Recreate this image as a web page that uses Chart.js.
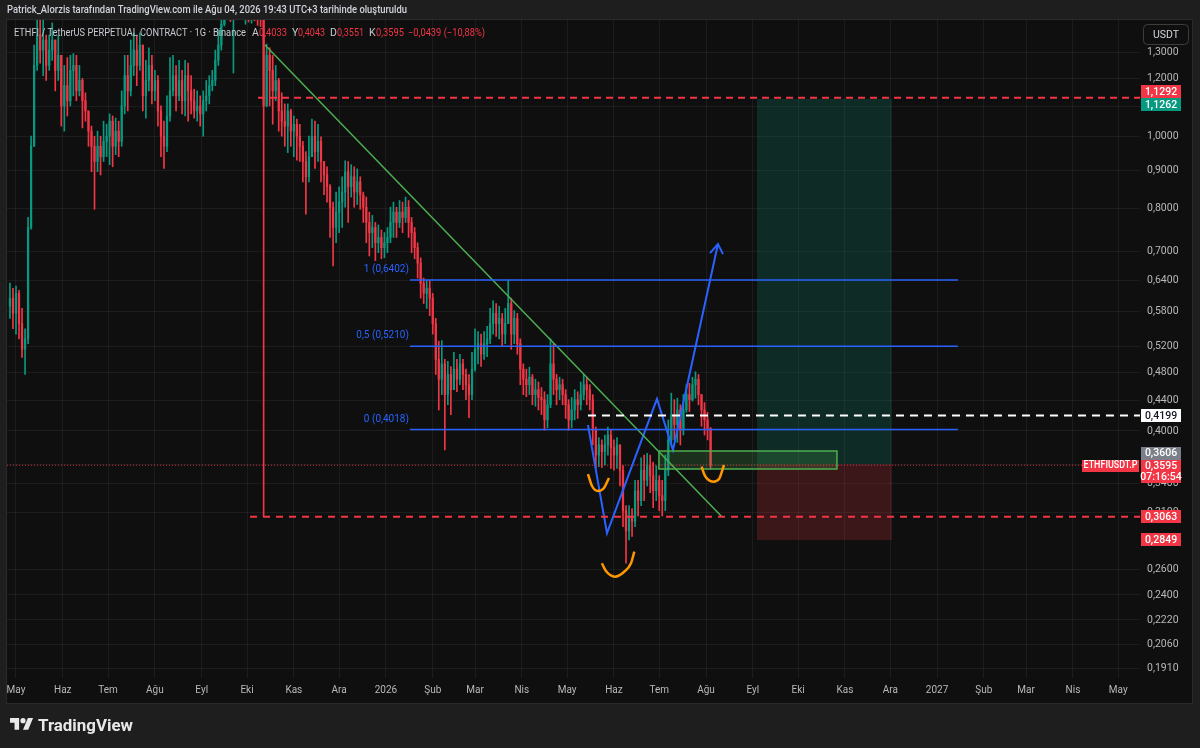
<!DOCTYPE html>
<html lang="tr">
<head>
<meta charset="utf-8">
<title>ETHFIUSDT.P</title>
<script src="https://cdn.jsdelivr.net/npm/chart.js@4.4.1/dist/chart.umd.min.js"></script>
<style>
  html, body { margin: 0; padding: 0; background: #1e1e1e; }
  canvas { display: block; }
</style>
</head>
<body>
<canvas id="chart" width="1200" height="748"></canvas>
<script>
// 2 günlük mumlar, gün sayısı 1 May 2025'ten itibaren
const startDay = -4;
const stepDays = 2;
const firstOpen = 0.590;

const closes = [
  0.605, 0.577, 0.614, 0.559, 0.516, 0.533, 0.754, 0.971, 1.249, 1.373,
  1.310, 1.352, 1.249, 1.310, 1.352, 1.230, 1.289, 1.101, 1.173, 1.119,
  1.230, 1.249, 1.154, 1.192, 1.119, 1.084, 1.018, 0.971, 0.926, 0.971,
  0.940, 0.986, 1.002, 1.050, 0.971, 1.018, 0.986, 1.101, 1.210, 1.154,
  1.249, 1.310, 1.249, 1.331, 1.136, 1.192, 1.249, 1.154, 1.192, 1.084,
  1.002, 0.971, 1.067, 1.154, 1.210, 1.136, 1.192, 1.119, 1.210, 1.154,
  1.119, 1.084, 1.101, 1.074, 1.119, 1.136, 1.173, 1.192, 1.269, 1.331,
  1.420, 1.490, 1.530, 1.505, 1.545, 1.520, 1.560, 1.535, 1.575, 1.540,
  1.560, 1.505, 1.470, 1.450, 1.101, 1.289, 1.230, 1.154, 1.192, 1.084,
  1.050, 1.034, 1.084, 1.018, 1.040, 1.002, 0.971, 0.926, 0.883, 0.940,
  1.002, 0.955, 0.986, 0.926, 0.888, 0.856, 0.803, 0.754, 0.791, 0.816,
  0.842, 0.897, 0.856, 0.883, 0.842, 0.869, 0.834, 0.803, 0.766, 0.742,
  0.754, 0.719, 0.731, 0.708, 0.719, 0.731, 0.766, 0.791, 0.766, 0.791,
  0.778, 0.803, 0.766, 0.742, 0.708, 0.675, 0.634, 0.614, 0.624, 0.605,
  0.559, 0.500, 0.470, 0.493, 0.448, 0.477, 0.455, 0.485, 0.470, 0.493,
  0.477, 0.462, 0.448, 0.485, 0.516, 0.525, 0.508, 0.525, 0.533, 0.559,
  0.577, 0.559, 0.568, 0.541, 0.559, 0.595, 0.541, 0.568, 0.525, 0.485,
  0.470, 0.462, 0.473, 0.448, 0.455, 0.444, 0.441, 0.414, 0.434, 0.493,
  0.470, 0.455, 0.462, 0.448, 0.434, 0.414, 0.427, 0.441, 0.434, 0.448,
  0.462, 0.455, 0.441, 0.401, 0.371, 0.383, 0.375, 0.383, 0.395, 0.380,
  0.371, 0.383, 0.354, 0.312, 0.293, 0.307, 0.302, 0.332, 0.322, 0.354,
  0.343, 0.359, 0.348, 0.332, 0.343, 0.327, 0.322, 0.354, 0.389, 0.421,
  0.408, 0.427, 0.401, 0.427, 0.448, 0.441, 0.462, 0.470, 0.448, 0.427,
  0.414, 0.4033, 0.3595
];
const highs = [
  0.634, 0.624, 0.628, 0.620, 0.586, 0.550, 0.778, 1.002, 1.331, 1.463,
  1.463, 1.440, 1.373, 1.373, 1.426, 1.352, 1.373, 1.289, 1.249, 1.280,
  1.289, 1.296, 1.289, 1.249, 1.200, 1.147, 1.084, 1.034, 1.002, 1.018,
  1.002, 1.050, 1.040, 1.074, 1.067, 1.060, 1.050, 1.154, 1.289, 1.289,
  1.352, 1.382, 1.373, 1.382, 1.331, 1.269, 1.320, 1.289, 1.230, 1.210,
  1.101, 1.050, 1.136, 1.280, 1.289, 1.249, 1.269, 1.230, 1.269, 1.258,
  1.210, 1.160, 1.154, 1.136, 1.154, 1.192, 1.210, 1.230, 1.310, 1.395,
  1.480, 1.560, 1.600, 1.590, 1.620, 1.600, 1.640, 1.620, 1.660, 1.620,
  1.640, 1.600, 1.560, 1.520, 1.470, 1.335, 1.320, 1.289, 1.249, 1.200,
  1.147, 1.108, 1.108, 1.090, 1.067, 1.057, 1.040, 0.986, 0.955, 1.002,
  1.057, 1.050, 1.040, 1.000, 0.926, 0.911, 0.862, 0.816, 0.842, 0.856,
  0.883, 0.928, 0.926, 0.917, 0.911, 0.905, 0.883, 0.842, 0.829, 0.791,
  0.783, 0.766, 0.760, 0.748, 0.742, 0.754, 0.803, 0.816, 0.803, 0.820,
  0.816, 0.829, 0.820, 0.778, 0.754, 0.719, 0.686, 0.644, 0.640, 0.640,
  0.614, 0.568, 0.529, 0.530, 0.500, 0.497, 0.489, 0.511, 0.500, 0.508,
  0.500, 0.485, 0.477, 0.511, 0.550, 0.545, 0.541, 0.545, 0.554, 0.586,
  0.600, 0.595, 0.590, 0.577, 0.586, 0.640, 0.605, 0.582, 0.577, 0.533,
  0.493, 0.485, 0.488, 0.477, 0.470, 0.466, 0.458, 0.452, 0.448, 0.533,
  0.525, 0.477, 0.473, 0.470, 0.455, 0.441, 0.444, 0.455, 0.452, 0.466,
  0.477, 0.473, 0.462, 0.448, 0.405, 0.392, 0.389, 0.395, 0.405, 0.401,
  0.389, 0.392, 0.383, 0.359, 0.317, 0.317, 0.314, 0.343, 0.343, 0.368,
  0.371, 0.373, 0.371, 0.363, 0.359, 0.348, 0.343, 0.371, 0.414, 0.450,
  0.441, 0.443, 0.434, 0.448, 0.462, 0.464, 0.473, 0.481, 0.477, 0.448,
  0.437, 0.424, 0.4043
];
const lows = [
  0.568, 0.550, 0.541, 0.533, 0.503, 0.477, 0.525, 0.750, 0.971, 1.230,
  1.258, 1.210, 1.192, 1.230, 1.269, 1.154, 1.192, 1.034, 1.018, 1.067,
  1.101, 1.136, 1.119, 1.136, 1.028, 1.050, 0.971, 0.897, 0.798, 0.897,
  0.888, 0.926, 0.940, 0.917, 0.911, 0.946, 0.940, 0.971, 1.074, 1.084,
  1.136, 1.210, 1.173, 1.230, 1.084, 1.060, 1.154, 1.108, 1.119, 1.034,
  0.940, 0.906, 0.955, 1.050, 1.136, 1.084, 1.119, 1.074, 1.067, 1.050,
  1.074, 1.060, 1.050, 1.034, 1.002, 1.084, 1.108, 1.154, 1.173, 1.249,
  1.310, 1.412, 1.440, 1.432, 1.220, 1.445, 1.470, 1.450, 1.420, 1.430,
  1.425, 1.435, 1.415, 1.410, 0.3063, 1.098, 1.101, 1.040, 1.119, 1.018,
  1.002, 0.971, 0.952, 0.971, 0.940, 0.930, 0.926, 0.869, 0.786, 0.869,
  0.940, 0.906, 0.926, 0.869, 0.835, 0.816, 0.731, 0.669, 0.719, 0.742,
  0.754, 0.803, 0.766, 0.829, 0.803, 0.810, 0.798, 0.766, 0.719, 0.690,
  0.708, 0.680, 0.697, 0.684, 0.686, 0.697, 0.719, 0.731, 0.731, 0.754,
  0.742, 0.766, 0.731, 0.697, 0.684, 0.644, 0.605, 0.595, 0.586, 0.573,
  0.541, 0.477, 0.427, 0.448, 0.377, 0.434, 0.421, 0.455, 0.452, 0.462,
  0.455, 0.441, 0.417, 0.441, 0.482, 0.493, 0.489, 0.500, 0.504, 0.525,
  0.541, 0.537, 0.533, 0.522, 0.525, 0.559, 0.516, 0.525, 0.508, 0.462,
  0.448, 0.445, 0.448, 0.434, 0.432, 0.427, 0.421, 0.401, 0.404, 0.430,
  0.448, 0.434, 0.441, 0.434, 0.416, 0.401, 0.404, 0.414, 0.416, 0.427,
  0.441, 0.434, 0.427, 0.383, 0.356, 0.358, 0.357, 0.360, 0.371, 0.356,
  0.354, 0.356, 0.337, 0.297, 0.265, 0.285, 0.288, 0.297, 0.307, 0.317,
  0.322, 0.337, 0.330, 0.315, 0.322, 0.312, 0.307, 0.312, 0.348, 0.383,
  0.389, 0.386, 0.383, 0.395, 0.424, 0.425, 0.439, 0.443, 0.434, 0.406,
  0.395, 0.389, 0.3551
];

const monthDays = [0, 31, 61, 92, 123, 153, 184, 214, 245, 276, 304, 335, 365, 396, 426, 457, 488, 518, 549, 579, 610, 641, 669, 700, 730];
const monthLabels = ['May', 'Haz', 'Tem', 'Ağu', 'Eyl', 'Eki', 'Kas', 'Ara', '2026', 'Şub', 'Mar', 'Nis', 'May', 'Haz', 'Tem', 'Ağu', 'Eyl', 'Eki', 'Kas', 'Ara', '2027', 'Şub', 'Mar', 'Nis', 'May'];
const priceTicks = [1.3, 1.2, 1.1, 1.0, 0.9, 0.8, 0.7, 0.64, 0.58, 0.52, 0.48, 0.44, 0.40, 0.36, 0.34, 0.31, 0.26, 0.24, 0.222, 0.206, 0.191];

const dayMin = -5.96, dayMax = 744.4;
const priceMin = 0.1853, priceMax = 1.439;

// çizim araçları
const fibLevels = [0.6402, 0.5210, 0.4018];
const fibNames = ['1 (0,6402)', '0,5 (0,5210)', '0 (0,4018)'];
const fibDays = [260.9, 623.8];
const trendDays = [164.9, 467.5];
const trendPrices = [1.331, 0.3063];
const zigDays = [378.8, 391.4, 424.5, 435.1, 464.9];
const zigPrices = [0.4075, 0.291, 0.442, 0.377, 0.716];
const arrowDays = [459.6, 464.9, 468.2];
const arrowPrices = [0.696, 0.716, 0.694];
const arc1Days = [378.8, 381.5, 385.4, 389.4, 392.7];
const arc1Prices = [0.3498, 0.337, 0.3318, 0.3349, 0.3455];
const arc2Days = [388.0, 390.7, 396.7, 402.6, 407.3, 409.5];
const arc2Prices = [0.2649, 0.2586, 0.2541, 0.2578, 0.2650, 0.2747];
const arc3Days = [454.1, 456.3, 461.8, 465.6, 468.9];
const arc3Prices = [0.3579, 0.3477, 0.3416, 0.3444, 0.3598];
const boxDays = [425.8, 543.7];
const boxPrices = [0.3758, 0.3554];
const longDays = [490.7, 580.1];
const targetPrice = 1.1262, entryPrice = 0.3606, stopPrice = 0.2849;
const resistPrice = 1.1292, supportPrice = 0.3063, whitePrice = 0.4199, lastPrice = 0.3595;
const resistFrom = 160.3, supportFrom = 155.0, whiteFrom = 378.8;

const GREEN = '#089981', RED = '#f23645', BLUE = '#2962ff', TL = '#4caf50', ORANGE = '#ff9800';

const opens = closes.map((c, i) => i === 0 ? firstOpen : closes[i - 1]);
const days = closes.map((c, i) => startDay + i * stepDays);
const colors = closes.map((c, i) => c >= opens[i] ? GREEN : RED);

function seg(xs, ys, color, width, dash, extra) {
  return Object.assign({
    type: 'line',
    data: xs.map((d, i) => ({ x: d, y: ys[i] })),
    borderColor: color,
    borderWidth: width,
    borderDash: dash || [],
    pointRadius: 0,
    fill: false,
    tension: 0,
    order: 10
  }, extra || {});
}
function flat(x0, x1, y, color, width, dash, extra) {
  return seg([x0, x1], [y, y], color, width, dash, extra);
}

const datasets = [
  // long pozisyon alanı
  flat(longDays[0], longDays[1], targetPrice, 'transparent', 0, null, { order: 50 }),
  flat(longDays[0], longDays[1], entryPrice, 'transparent', 0, null, { order: 50, fill: '-1', backgroundColor: 'rgba(8,153,129,0.2)' }),
  flat(longDays[0], longDays[1], entryPrice, 'transparent', 0, null, { order: 50 }),
  flat(longDays[0], longDays[1], stopPrice, 'transparent', 0, null, { order: 50, fill: '-1', backgroundColor: 'rgba(242,54,69,0.2)' }),
  // yeşil kutu
  flat(boxDays[0], boxDays[1], boxPrices[0], 'transparent', 0, null, { order: 12 }),
  flat(boxDays[0], boxDays[1], boxPrices[1], 'transparent', 0, null, { order: 12, fill: '-1', backgroundColor: 'rgba(76,175,80,0.22)' }),
  seg([boxDays[0], boxDays[1], boxDays[1], boxDays[0], boxDays[0]],
      [boxPrices[0], boxPrices[0], boxPrices[1], boxPrices[1], boxPrices[0]], TL, 1.5),
  // mumlar
  {
    type: 'bar',
    data: days.map((d, i) => ({ x: d, y: [lows[i], highs[i]] })),
    backgroundColor: colors,
    barThickness: 1,
    grouped: false,
    order: 40
  },
  {
    type: 'bar',
    data: days.map((d, i) => ({ x: d, y: [opens[i], closes[i]] })),
    backgroundColor: colors,
    barThickness: 1.6,
    minBarLength: 1,
    grouped: false,
    order: 39
  },
  // yatay seviyeler
  flat(dayMin, dayMax, lastPrice, 'rgba(242,54,69,0.85)', 1, [1, 2]),
  flat(resistFrom, dayMax, resistPrice, RED, 2, [7, 5]),
  flat(supportFrom, dayMax, supportPrice, RED, 2, [7, 6]),
  flat(whiteFrom, dayMax, whitePrice, '#ffffff', 2, [8, 6]),
  ...fibLevels.map(lv => flat(fibDays[0], fibDays[1], lv, BLUE, 1.5)),
  seg(trendDays, trendPrices, TL, 1.5),
  seg(zigDays, zigPrices, BLUE, 2),
  seg(arrowDays, arrowPrices, BLUE, 2),
  seg(arc1Days, arc1Prices, ORANGE, 2.5, null, { cubicInterpolationMode: 'monotone', order: 5 }),
  seg(arc2Days, arc2Prices, ORANGE, 2.5, null, { cubicInterpolationMode: 'monotone', order: 5 }),
  seg(arc3Days, arc3Prices, ORANGE, 2.5, null, { cubicInterpolationMode: 'monotone', order: 5 })
];

const fmt = v => v.toFixed(4).replace('.', ',');

const background = {
  id: 'background',
  beforeDraw(chart) {
    const ctx = chart.ctx;
    ctx.save();
    ctx.fillStyle = '#1e1e1e';
    ctx.fillRect(0, 0, chart.width, chart.height);
    ctx.fillStyle = '#0f0f0f';
    ctx.fillRect(7, 20, 1185, 683);
    ctx.strokeStyle = '#2a2a2a';
    ctx.lineWidth = 1;
    ctx.strokeRect(6.5, 19.5, 1186, 684);
    ctx.restore();
  }
};

function tag(ctx, text, yc, bg, fg) {
  ctx.fillStyle = bg;
  ctx.fillRect(1141, Math.round(yc - 6.5), 40, 13);
  ctx.fillStyle = fg;
  ctx.fillText(text, 1161, yc + 0.5);
}

const overlay = {
  id: 'overlay',
  afterDraw(chart) {
    const ctx = chart.ctx;
    const xs = chart.scales.x, ys = chart.scales.y;
    ctx.save();

    // fib etiketleri
    ctx.font = '10px Roboto';
    ctx.fillStyle = BLUE;
    ctx.textAlign = 'right';
    ctx.textBaseline = 'middle';
    fibLevels.forEach((lv, k) => {
      ctx.fillText(fibNames[k], xs.getPixelForValue(fibDays[0]) - 1, ys.getPixelForValue(lv) - 10.5);
    });

    // fiyat ekseni etiketleri
    ctx.textAlign = 'center';
    ctx.font = '500 10.5px Roboto';
    const mid = (ys.getPixelForValue(resistPrice) + ys.getPixelForValue(targetPrice)) / 2;
    tag(ctx, fmt(resistPrice), mid - 6.5, RED, '#ffffff');
    tag(ctx, fmt(targetPrice), mid + 6.5, GREEN, '#ffffff');
    tag(ctx, fmt(whitePrice), ys.getPixelForValue(whitePrice), '#ffffff', '#131722');
    const yl = ys.getPixelForValue(lastPrice);
    tag(ctx, fmt(entryPrice), yl - 12, '#7b7f89', '#ffffff');
    ctx.fillStyle = RED;
    ctx.fillRect(1141, Math.round(yl - 5.5), 40, 23);
    ctx.fillRect(1082, Math.round(yl - 5.5), 57, 12);
    ctx.fillStyle = '#ffffff';
    ctx.fillText(fmt(lastPrice), 1161, yl + 1);
    ctx.fillText('07:16:54', 1161, yl + 12);
    ctx.fillText('ETHFIUSDT.P', 1110.5, yl + 0.5, 54);
    tag(ctx, fmt(supportPrice), ys.getPixelForValue(supportPrice), RED, '#ffffff');
    tag(ctx, fmt(stopPrice), ys.getPixelForValue(stopPrice), RED, '#ffffff');

    // USDT kutusu
    ctx.strokeStyle = '#3c3c3c';
    ctx.lineWidth = 1;
    ctx.beginPath();
    ctx.roundRect(1143.5, 24.5, 45, 20, 4);
    ctx.stroke();
    ctx.fillStyle = '#d1d4dc';
    ctx.font = '10.5px Roboto';
    ctx.fillText('USDT', 1166, 35);

    // başlık
    ctx.textAlign = 'left';
    ctx.font = '500 11px Roboto';
    ctx.fillStyle = '#d1d4dc';
    ctx.fillText('Patrick_Alorzis tarafından TradingView.com ile Ağu 04, 2026 19:43 UTC+3 tarihinde oluşturuldu', 7, 10, 400);

    // sembol satırı
    ctx.font = '10.5px Roboto';
    const legend = [
      [14, 'ETHFI / TetherUS PERPETUAL CONTRACT · 1G · Binance', '#c8cad0', 232],
      [252, 'A', '#c8cad0', 7], [259, '0,4033', RED, 28],
      [292, 'Y', '#c8cad0', 7], [298, '0,4043', RED, 27],
      [330, 'D', '#c8cad0', 7], [337, '0,3551', RED, 27],
      [369, 'K', '#c8cad0', 7], [376, '0,3595', RED, 28],
      [408, '−0,0439 (−10,88%)', RED, 77]
    ];
    legend.forEach(([x, t, c, w]) => {
      ctx.fillStyle = c;
      ctx.fillText(t, x, 33, w);
    });

    // TradingView logosu
    ctx.save();
    ctx.translate(10, 715.5);
    ctx.scale(0.65, 0.65);
    ctx.fillStyle = '#e8e8e8';
    ctx.fill(new Path2D('M14 22H7V11H0V4h14v18zM28 22h-8l7.5-18h8L28 22z'));
    ctx.beginPath();
    ctx.arc(20, 8, 4, 0, Math.PI * 2);
    ctx.fill();
    ctx.restore();
    ctx.font = 'bold 17px Roboto';
    ctx.fillStyle = '#e8e8e8';
    ctx.textBaseline = 'alphabetic';
    ctx.fillText('TradingView', 38, 731, 95);

    ctx.restore();
  }
};

Chart.defaults.font.family = 'Roboto, sans-serif';

new Chart(document.getElementById('chart'), {
  type: 'bar',
  data: { datasets },
  options: {
    responsive: false,
    animation: false,
    events: [],
    layout: { padding: { left: 7, top: 20, right: 8, bottom: 45 } },
    plugins: { legend: { display: false }, tooltip: { enabled: false } },
    scales: {
      x: {
        type: 'linear',
        min: dayMin,
        max: dayMax,
        offset: false,
        bounds: 'data',
        grid: { color: 'rgba(255,255,255,0.055)', drawTicks: false, offset: false },
        border: { display: false },
        afterBuildTicks: s => { s.ticks = monthDays.map(v => ({ value: v })); },
        afterFit: s => { s.height = 25; },
        ticks: {
          autoSkip: false,
          maxRotation: 0,
          padding: 6,
          color: '#b8b8b8',
          font: { size: 10 },
          callback: (v, i) => monthLabels[i]
        }
      },
      y: {
        type: 'logarithmic',
        position: 'right',
        min: priceMin,
        max: priceMax,
        bounds: 'data',
        grid: { color: 'rgba(255,255,255,0.055)', drawTicks: false },
        border: { display: false },
        afterBuildTicks: s => { s.ticks = priceTicks.map(v => ({ value: v })); },
        afterFit: s => { s.width = 52; },
        ticks: {
          padding: 7,
          color: '#b8b8b8',
          font: { size: 10.5 },
          callback: v => fmt(v)
        }
      }
    }
  },
  plugins: [background, overlay]
});
</script>
</body>
</html>
